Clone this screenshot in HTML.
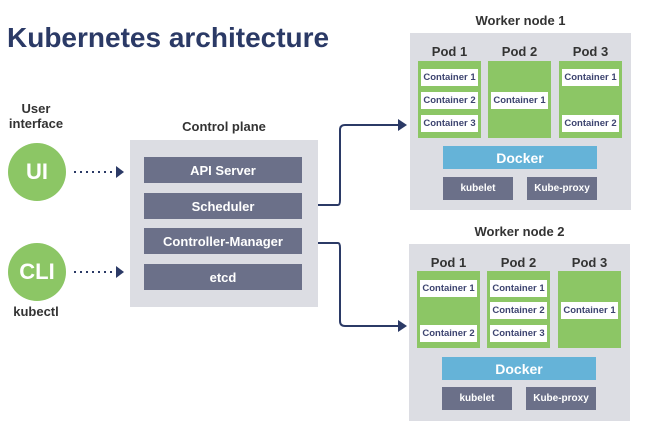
<!DOCTYPE html>
<html><head><style>
*{margin:0;padding:0;box-sizing:border-box}
body{width:650px;height:431px;background:#fff;position:relative;overflow:hidden;font-family:"Liberation Sans",sans-serif}
.a{position:absolute}
.t{position:absolute;font-weight:bold;color:#333;text-align:center;font-size:13px}
.gray{position:absolute;background:#dcdde3}
.bar{position:absolute;background:#6b7089;color:#fff;font-weight:bold;font-size:13px;display:flex;align-items:center;justify-content:center}
.pod{position:absolute;background:#8cc665}
.c{position:absolute;background:#fff;color:#3d4470;font-weight:bold;font-size:9.5px;display:flex;align-items:center;justify-content:center;width:57px;height:17px}
.circ{position:absolute;width:58px;height:58px;border-radius:50%;background:#8cc665;color:#fff;font-weight:bold;font-size:22px;display:flex;align-items:center;justify-content:center}
.dock{position:absolute;background:#65b3d8;color:#fff;font-weight:bold;font-size:14px;display:flex;align-items:center;justify-content:center}
.sm{font-size:10px}
</style></head><body>
<div class="a" style="left:7px;top:22px;font-size:28px;font-weight:bold;color:#2b3a66">Kubernetes architecture</div>

<div class="t" style="left:0;top:101px;width:72px;line-height:15px">User<br>interface</div>
<div class="circ" style="left:8px;top:143px">UI</div>
<div class="circ" style="left:8px;top:243px">CLI</div>
<div class="t" style="left:0;top:304px;width:72px">kubectl</div>

<div class="t" style="left:130px;top:119px;width:188px">Control plane</div>
<div class="gray" style="left:130px;top:140px;width:188px;height:167px"></div>
<div class="bar" style="left:144px;top:157px;width:158px;height:26px">API Server</div>
<div class="bar" style="left:144px;top:193px;width:158px;height:26px">Scheduler</div>
<div class="bar" style="left:144px;top:228px;width:158px;height:26px">Controller-Manager</div>
<div class="bar" style="left:144px;top:264px;width:158px;height:26px">etcd</div>

<svg class="a" style="left:0;top:0" width="650" height="431">
<g stroke="#2b3a66" stroke-width="2" fill="none">
<line x1="74" y1="172" x2="116" y2="172" stroke-dasharray="2,4"/>
<line x1="74" y1="272" x2="116" y2="272" stroke-dasharray="2,4"/>
<path d="M318 205 H338 Q340 205 340 200 V130 Q340 125 345 125 H400"/>
<path d="M318 243 H338 Q340 243 340 248 V321 Q340 326 345 326 H400"/>
</g>
<g fill="#2b3a66">
<polygon points="116,166 124,172 116,178"/>
<polygon points="116,266 124,272 116,278"/>
<polygon points="398,119 407,125 398,131"/>
<polygon points="398,320 407,326 398,332"/>
</g>
</svg>

<!-- Worker 1 -->
<div class="t" style="left:410px;top:13px;width:221px">Worker node 1</div>
<div class="gray" style="left:410px;top:33px;width:221px;height:177px"></div>
<div class="t" style="left:418px;top:44px;width:63px">Pod 1</div>
<div class="t" style="left:488px;top:44px;width:63px">Pod 2</div>
<div class="t" style="left:559px;top:44px;width:63px">Pod 3</div>
<div class="pod" style="left:418px;top:61px;width:63px;height:77px"></div>
<div class="pod" style="left:488px;top:61px;width:63px;height:77px"></div>
<div class="pod" style="left:559px;top:61px;width:63px;height:77px"></div>
<div class="c" style="left:421px;top:69px">Container 1</div>
<div class="c" style="left:421px;top:92px">Container 2</div>
<div class="c" style="left:421px;top:115px">Container 3</div>
<div class="c" style="left:491px;top:92px">Container 1</div>
<div class="c" style="left:562px;top:69px">Container 1</div>
<div class="c" style="left:562px;top:115px">Container 2</div>
<div class="dock" style="left:443px;top:146px;width:154px;height:23px">Docker</div>
<div class="bar sm" style="left:443px;top:177px;width:70px;height:23px">kubelet</div>
<div class="bar sm" style="left:527px;top:177px;width:70px;height:23px">Kube-proxy</div>

<!-- Worker 2 -->
<div class="t" style="left:409px;top:224px;width:221px">Worker node 2</div>
<div class="gray" style="left:409px;top:244px;width:221px;height:177px"></div>
<div class="t" style="left:417px;top:255px;width:63px">Pod 1</div>
<div class="t" style="left:487px;top:255px;width:63px">Pod 2</div>
<div class="t" style="left:558px;top:255px;width:63px">Pod 3</div>
<div class="pod" style="left:417px;top:271px;width:63px;height:77px"></div>
<div class="pod" style="left:487px;top:271px;width:63px;height:77px"></div>
<div class="pod" style="left:558px;top:271px;width:63px;height:77px"></div>
<div class="c" style="left:420px;top:280px">Container 1</div>
<div class="c" style="left:420px;top:325px">Container 2</div>
<div class="c" style="left:490px;top:280px">Container 1</div>
<div class="c" style="left:490px;top:302px">Container 2</div>
<div class="c" style="left:490px;top:325px">Container 3</div>
<div class="c" style="left:561px;top:302px">Container 1</div>
<div class="dock" style="left:442px;top:357px;width:154px;height:23px">Docker</div>
<div class="bar sm" style="left:442px;top:387px;width:70px;height:23px">kubelet</div>
<div class="bar sm" style="left:526px;top:387px;width:70px;height:23px">Kube-proxy</div>
</body></html>
